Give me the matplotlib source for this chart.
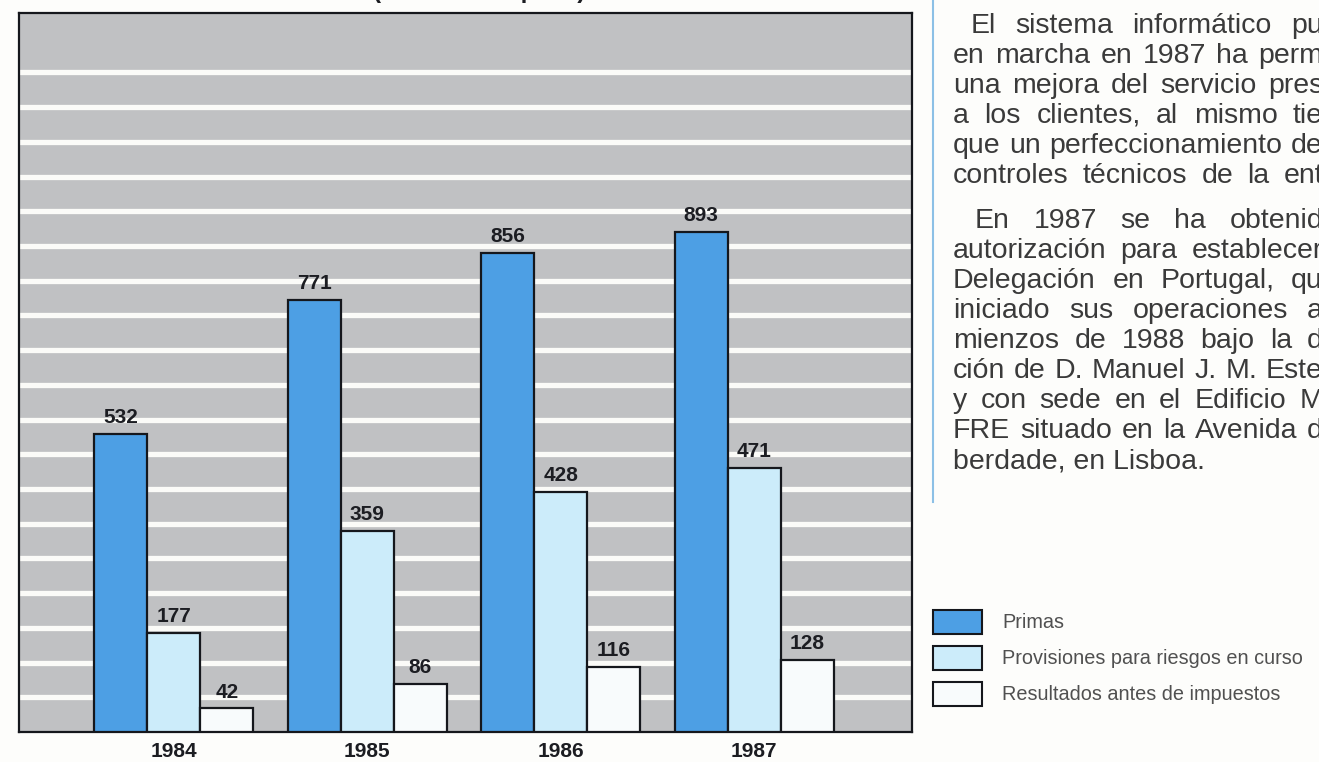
import matplotlib
matplotlib.use("Agg")
import matplotlib.pyplot as plt
from matplotlib.patches import Rectangle
from matplotlib.lines import Line2D
import numpy as np

# Data
years = ["1984", "1985", "1986", "1987"]
primas = [532, 771, 856, 893]
provisiones = [177, 359, 428, 471]
resultados = [42, 86, 116, 128]
names = ["Primas", "Provisiones para riesgos en curso", "Resultados antes de impuestos"]
title = "(Millones de ptas.)"

para1 = ["El sistema informático pu",
         "en marcha en 1987 ha perm",
         "una mejora del servicio pres",
         "a los clientes, al mismo tie",
         "que un perfeccionamiento de",
         "controles técnicos de la ent"]
para2 = ["En 1987 se ha obtenid",
         "autorización para establecer",
         "Delegación en Portugal, qu",
         "iniciado sus operaciones a",
         "mienzos de 1988 bajo la d",
         "ción de D. Manuel J. M. Este",
         "y con sede en el Edificio M",
         "FRE situado en la Avenida d",
         "berdade, en Lisboa."]

colors = ["#4d9fe4", "#ccecfa", "#f8fbfc"]
FONT = ["Liberation Sans", "DejaVu Sans"]

W, H = 1319, 762
fig = plt.figure(figsize=(W / 100, H / 100), dpi=100)
fig.patch.set_facecolor("#fdfdfb")

def fx(px):
  return px / W

def fy(py):
  return 1 - py / H

# Chart box
ax = fig.add_axes([fx(19), fy(732), (912 - 19) / W, (732 - 13) / H])
ax.set_facecolor("#c0c1c3")
ymax = 1284
ax.set_ylim(0, ymax)
ax.set_xlim(-0.80, 3.815)

# White stripes
for y in np.arange(62, 62 * 19 + 1, 62):
  ax.axhline(y, color="#fbfbf8", lw=3.8, zorder=1)

x = np.arange(len(years))
w = 0.274
for i, (vals, c) in enumerate(zip([primas, provisiones, resultados], colors)):
  bars = ax.bar(x + (i - 1) * w, vals, w, color=c, edgecolor="#15171c", lw=1.6, zorder=3)
  ax.bar_label(bars, padding=5, fontsize=15, fontweight="bold", family=FONT, color="#1c1d22")

ax.set_yticks([])
ax.set_xticks(x, years)
ax.tick_params(axis="x", length=0, pad=7)
for lbl in ax.get_xticklabels():
  lbl.set_fontsize(15)
  lbl.set_fontweight("bold")
  lbl.set_family(FONT)
  lbl.set_color("#1c1d22")
for s in ax.spines.values():
  s.set_color("#15171c")
  s.set_linewidth(1.6)

# Title (cut off by the page top)
fig.text(fx(479), fy(-2), title, ha="center", va="baseline", fontsize=17.5,
         fontweight="bold", family=FONT, color="#1c1d22")

# Blue rule next to the text column
fig.add_artist(Line2D([fx(933), fx(933)], [1, fy(502)], color="#8cc0e6", lw=1.5))

# Justified text column
renderer = fig.canvas.get_renderer()
FS = 20.5

def put_line(line, x0, base, justify=True, x1=1323):
  if not justify:
    fig.text(fx(x0), fy(base), line, fontsize=FS, family=FONT, color="#3a3a3a", va="baseline")
    return
  words = line.split(" ")
  texts = [fig.text(0, 0, wd, fontsize=FS, family=FONT, color="#3a3a3a", va="baseline") for wd in words]
  widths = [t.get_window_extent(renderer).width for t in texts]
  gap = (x1 - x0 - sum(widths)) / (len(words) - 1)
  pos = x0
  for t, wdt in zip(texts, widths):
    t.set_position((fx(pos), fy(base)))
    pos += wdt + gap

for k, line in enumerate(para1):
  put_line(line, 971 if k == 0 else 953, 33 + 30 * k)
for k, line in enumerate(para2):
  put_line(line, 975 if k == 0 else 953, 228 + 30 * k, justify=(k < len(para2) - 1))

# Legend
for k, (name, c) in enumerate(zip(names, colors)):
  top = 610 + 36 * k
  fig.add_artist(Rectangle((fx(933), fy(top + 24)), 49 / W, 24 / H, transform=fig.transFigure,
                           facecolor=c, edgecolor="#15171c", lw=1.5))
  fig.text(fx(1002), fy(top + 12), name, fontsize=14.3, family=FONT, color="#505050", va="center")

fig.savefig("out.png", dpi=100, facecolor=fig.get_facecolor())
